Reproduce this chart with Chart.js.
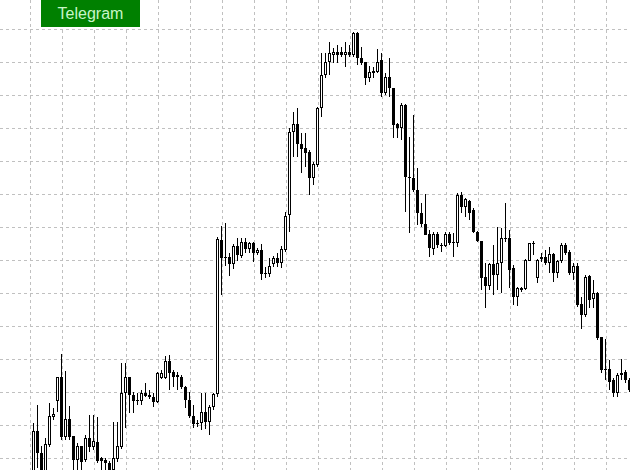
<!DOCTYPE html>
<html>
<head>
<meta charset="utf-8">
<title>Telegram chart</title>
<script src="https://cdn.jsdelivr.net/npm/chart.js@4.4.0/dist/chart.umd.min.js"></script>
<style>
  html, body { margin: 0; padding: 0; background: #ffffff; }
  #wrap { position: relative; width: 630px; height: 470px; overflow: hidden; }
  #chart { display: block; }
  #telegram {
    position: absolute; left: 41px; top: 0; width: 99px; height: 27px;
    background: #008000; color: #c8f5c8;
    font: 16px "Liberation Sans", Arial, sans-serif;
    line-height: 27px; text-align: center;
  }
</style>
</head>
<body>
<div id="wrap">
  <canvas id="chart" width="630" height="470"></canvas>
  <div id="telegram">Telegram</div>
</div>
<script>
// Candle values (price units), one per bar
const opens = [
  -6, 39, 17, -5, 25, 53, 69, 93, 33, 51,
  34, 10, 24, 10, 32, 23, 28, 12, 10, 7,
  0, 11, 23, 77, 93, 75, 69, 69, 77, 75,
  73, 68, 92, 92, 109, 98, 95, 93, 83, 70,
  54, 47, 47, 58, 48, 63, 76, 230, 213, 213,
  206, 224, 214, 228, 221, 227, 217, 220, 197, 196,
  206, 212, 207, 220, 255, 338, 346, 326, 322, 318,
  292, 305, 362, 395, 408, 415, 418, 418, 415, 418,
  415, 437, 412, 408, 392, 397, 398, 410, 377, 393,
  382, 346, 342, 365, 293, 292, 280, 257, 246, 236,
  221, 236, 225, 224, 236, 227, 227, 275, 263, 269,
  260, 238, 229, 193, 184, 206, 195, 207, 232, 232,
  202, 173, 182, 181, 209, 226, 192, 213, 213, 207,
  216, 197, 209, 225, 218, 197, 204, 166, 155, 194,
  171, 177, 133, 101, 101, 90, 77, 95, 98, 90
];
const highs = [
  47, 65, 24, 32, 67, 62, 93, 116, 99, 64,
  34, 27, 24, 35, 55, 55, 53, 13, 12, 9,
  48, 48, 107, 107, 93, 78, 77, 80, 87, 80,
  77, 98, 100, 114, 115, 100, 98, 95, 84, 78,
  65, 50, 77, 77, 65, 77, 233, 244, 247, 217,
  226, 232, 232, 232, 228, 228, 222, 226, 203, 212,
  214, 217, 224, 258, 342, 358, 362, 337, 337, 320,
  308, 363, 417, 417, 428, 422, 425, 423, 428, 425,
  438, 438, 423, 408, 404, 403, 421, 417, 397, 412,
  382, 347, 367, 366, 333, 355, 302, 267, 276, 240,
  238, 238, 227, 238, 238, 237, 277, 278, 272, 270,
  262, 239, 229, 207, 207, 225, 243, 242, 267, 240,
  205, 183, 183, 211, 227, 229, 211, 217, 220, 223,
  217, 210, 227, 227, 220, 207, 207, 173, 195, 195,
  190, 178, 133, 131, 110, 92, 97, 111, 100, 92
];
const lows = [
  -12, 2, -14, -10, 23, 50, 58, 30, 30, 30,
  0, 0, 0, 8, 18, 20, 7, 0, 0, -6,
  -4, 8, 21, 42, 57, 57, 65, 65, 73, 71,
  63, 67, 91, 91, 80, 83, 80, 81, 62, 52,
  42, 43, 40, 41, 35, 60, 73, 175, 204, 194,
  201, 209, 212, 217, 217, 208, 215, 190, 192, 193,
  203, 203, 202, 218, 238, 313, 313, 297, 303, 275,
  285, 303, 353, 392, 395, 407, 407, 413, 403, 413,
  413, 405, 405, 385, 388, 392, 397, 373, 375, 373,
  332, 332, 330, 258, 237, 278, 245, 243, 235, 213,
  215, 222, 218, 223, 225, 213, 223, 257, 253, 250,
  237, 228, 180, 162, 180, 175, 180, 177, 228, 182,
  165, 164, 178, 180, 209, 215, 187, 208, 205, 197,
  188, 192, 207, 215, 195, 190, 163, 141, 153, 162,
  162, 130, 97, 90, 80, 73, 73, 90, 87, 78
];
const closes = [
  39, 17, -8, 26, 54, 56, 93, 33, 51, 33,
  10, 24, 8, 32, 23, 29, 9, 9, 7, -2,
  12, 24, 77, 93, 75, 69, 70, 77, 74, 73,
  68, 97, 97, 109, 97, 93, 93, 83, 70, 54,
  46, 46, 58, 48, 63, 76, 231, 212, 212, 206,
  224, 215, 228, 221, 227, 217, 220, 196, 196, 204,
  212, 207, 221, 254, 338, 346, 326, 321, 317, 292,
  306, 362, 395, 408, 417, 418, 415, 415, 418, 415,
  437, 412, 407, 392, 398, 399, 408, 377, 393, 382,
  345, 342, 365, 293, 292, 280, 257, 246, 235, 222,
  236, 225, 224, 236, 227, 228, 275, 263, 271, 257,
  238, 229, 192, 184, 206, 195, 207, 232, 231, 200,
  173, 182, 180, 210, 227, 227, 210, 211, 207, 216,
  197, 209, 225, 217, 197, 204, 165, 155, 193, 170,
  177, 132, 100, 100, 88, 77, 95, 97, 90, 80
];

// Grid lines: every 8 bars, and every 33 price units
const xGrid = [];
for (let k = 0; k < 19; k++) xGrid.push(-0.75 + 8 * k);
const yGrid = [];
for (let k = 0; k < 14; k++) yGrid.push(440.5 - 33 * k);

// Build the two bar datasets: bodies (open..close) and wicks (low..high)
const bodyData = [];
const wickData = [];
const bodyColors = [];
for (let i = 0; i < opens.length; i++) {
    bodyData.push({ x: i, y: [opens[i], closes[i]] });
    wickData.push({ x: i, y: [lows[i], highs[i]] });
    bodyColors.push(closes[i] >= opens[i] ? '#ffffff' : '#000000');
}

new Chart(document.getElementById('chart').getContext('2d'), {
    type: 'bar',
    data: {
        datasets: [
            {
                label: 'body',
                data: bodyData,
                grouped: false,
                barThickness: 3,
                backgroundColor: bodyColors,
                borderColor: '#000000',
                borderWidth: 1,
                borderSkipped: false,
                inflateAmount: 0,
                minBarLength: 1,
            },
            {
                label: 'wick',
                data: wickData,
                grouped: false,
                barThickness: 1,
                backgroundColor: '#000000',
                borderWidth: 0,
                inflateAmount: 0,
            },
        ],
    },
    options: {
        responsive: false,
        animation: false,
        devicePixelRatio: 1,
        events: [],
        layout: { padding: 0 },
        plugins: { legend: { display: false }, tooltip: { enabled: false } },
        scales: {
            x: {
                type: 'linear',
                offset: false,
                min: -8.375,
                max: 149.125,
                grid: { color: '#c0c0c0', lineWidth: 1, drawTicks: false, offset: false },
                border: { display: false, dash: [3, 3] },
                ticks: { display: false },
                afterBuildTicks: (scale) => { scale.ticks = xGrid.map(v => ({ value: v })); },
            },
            y: {
                type: 'linear',
                min: 0,
                max: 470,
                grid: { color: '#c0c0c0', lineWidth: 1, drawTicks: false },
                border: { display: false, dash: [3, 3] },
                ticks: { display: false },
                afterBuildTicks: (scale) => { scale.ticks = yGrid.map(v => ({ value: v })); },
            },
        },
    },
});
</script>
</body>
</html>
